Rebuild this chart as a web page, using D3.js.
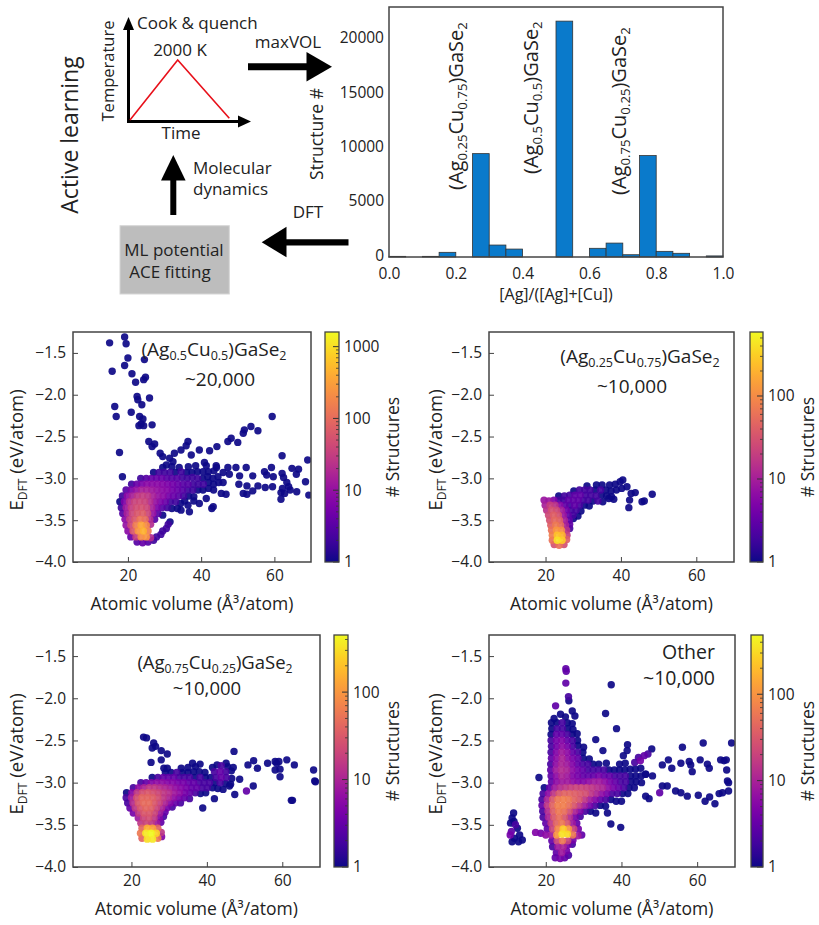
<!DOCTYPE html>
<html><head><meta charset="utf-8">
<script src="https://cdn.jsdelivr.net/npm/d3@7"></script>
<style>
body{margin:0;background:#fff;}
svg{display:block;font-family:"Open Sans",sans-serif;}
</style></head><body>
<svg id="fig" width="819" height="925"></svg>
<script>
// ---------------- DATA ----------------
const histBinStart = [0.00,0.05,0.10,0.15,0.20,0.25,0.30,0.35,0.40,0.45,0.50,0.55,0.60,0.65,0.70,0.75,0.80,0.85,0.90,0.95];
const histCounts   = [60,0,60,430,0,9510,1100,730,0,0,21700,0,800,1280,210,9330,520,340,0,100];
const histYTicks = [0,5000,10000,15000,20000];
const histXTicks = [0.0,0.2,0.4,0.6,0.8,1.0];

const scatterYTicks = [-4.0,-3.5,-3.0,-2.5,-2.0,-1.5];
const scatterXTicks = [20,40,60];

const formula050 = [["(Ag",0],["0.5",1],["Cu",0],["0.5",1],[")GaSe",0],["2",1]];
const formula025 = [["(Ag",0],["0.25",1],["Cu",0],["0.75",1],[")GaSe",0],["2",1]];
const formula075 = [["(Ag",0],["0.75",1],["Cu",0],["0.25",1],[")GaSe",0],["2",1]];

// [atomic volume, E_DFT, # structures]
const p1Points = [
[15.0,-1.38,1],[19.1,-1.31,1],[19.5,-1.39,1],[15.7,-1.72,1],[20.0,-1.56,1],[24.5,-1.58,1],[19.1,-1.65,1],[21.1,-1.75,1],[22.1,-1.85,1],[24.3,-1.82,1],[24.8,-1.79,1],[22.5,-2.02,1],[22.7,-2.06,1],[23.8,-2.12,1],[25.9,-2.04,1],[16.4,-2.14,1],[16.8,-2.26,1],[20.9,-2.21,1],[23.2,-2.26,1],[24.1,-2.29,1],[23.6,-2.35,1],[23.0,-2.37,1],[24.3,-2.37,1],[26.6,-2.36,1],[59.4,-2.26,1],[25.7,-2.56,1],[26.6,-2.62,1],[27.3,-2.59,1],[17.7,-2.69,1],[28.8,-2.70,1],[29.5,-2.74,1],[31.4,-2.76,1],[32.3,-2.80,1],[30.5,-2.84,1],[36.4,-2.56,1],[35.9,-2.61,1],[34.5,-2.66,1],[32.7,-2.70,1],[39.5,-2.66,1],[37.3,-2.72,1],[44.3,-2.62,1],[47.3,-2.56,1],[48.2,-2.52,1],[50.0,-2.57,1],[51.8,-2.42,1],[53.6,-2.38,1],[55.5,-2.43,1],[51.5,-2.46,1],[42.3,-2.67,1],[40.9,-2.81,1],[62.1,-2.73,1],[69.1,-2.78,1],[18.5,-2.98,1],
[47.3,-2.87,1],[49.5,-2.87,1],[52.3,-2.87,1],[47.7,-2.95,1],[50.5,-2.97,1],[54.1,-2.97,1],[57.3,-2.92,1],[57.9,-2.96,1],[59.7,-2.98,1],[62.1,-2.94,1],[62.5,-2.99,1],[66.6,-2.89,1],[68.5,-3.04,1],[50.3,-3.07,1],[52.5,-3.09,1],[55.5,-3.09,1],[57.5,-3.11,1],[59.5,-3.10,1],[63.4,-3.05,1],[63.9,-3.10,1],[46.8,-3.19,1],[51.5,-3.18,1],[52.5,-3.19,1],[54.1,-3.15,1],[61.8,-3.17,1],[64.3,-3.14,1],[66.1,-3.16,1],[61.8,-3.25,1],[45.5,-3.18,1],[69.4,-3.20,1],[62.2,-3.12,1],[62.8,-3.18,1],[59.2,-2.87,1],[64.8,-2.88,1],[66.0,-2.95,1],[44.2,-2.87,1],[46.0,-2.93,1],
[22.5,-3.76,3],[24.0,-3.77,4],[25.5,-3.76,3],[27.0,-3.74,2],
[20.8,-3.70,4],[22.2,-3.70,30],[23.6,-3.70,200],[25.0,-3.70,250],[26.2,-3.71,20],[27.8,-3.70,2],[29.0,-3.67,2],
[20.0,-3.63,8],[21.4,-3.63,60],[22.8,-3.63,250],[24.2,-3.63,450],[25.5,-3.63,150],[29.5,-3.63,2],[30.5,-3.60,2],
[19.5,-3.56,10],[20.8,-3.56,40],[22.2,-3.56,150],[23.6,-3.56,350],[25.0,-3.56,200],[26.2,-3.55,20],[31.0,-3.55,2],[31.5,-3.52,1],
[19.2,-3.49,8],[20.5,-3.49,30],[21.9,-3.49,60],[23.3,-3.49,120],[24.7,-3.49,100],[26.0,-3.49,20],[27.3,-3.49,3],
[18.6,-3.42,3],[19.8,-3.42,15],[21.2,-3.42,40],[22.6,-3.42,60],[24.0,-3.42,70],[25.4,-3.42,40],[26.8,-3.42,10],[28.2,-3.42,3],[29.5,-3.44,1],
[18.2,-3.35,2],[19.5,-3.35,12],[20.9,-3.35,30],[22.3,-3.35,45],[23.7,-3.35,50],[25.1,-3.35,40],[26.5,-3.35,15],[27.9,-3.35,6],[29.3,-3.35,3],[30.7,-3.35,2],[32.0,-3.36,1],[33.5,-3.36,1],
[17.8,-3.28,1],[19.0,-3.28,6],[20.4,-3.28,20],[21.8,-3.28,35],[23.2,-3.28,40],[24.6,-3.28,35],[26.0,-3.28,20],[27.4,-3.28,10],[28.8,-3.28,6],[30.2,-3.28,4],[31.6,-3.28,2],[33.0,-3.28,2],[34.4,-3.30,1],[35.5,-3.27,1],
[18.5,-3.21,2],[19.8,-3.21,8],[21.2,-3.21,15],[22.6,-3.21,25],[24.0,-3.21,30],[25.4,-3.21,25],[26.8,-3.21,15],[28.2,-3.21,10],[29.6,-3.21,8],[31.0,-3.21,5],[32.4,-3.21,4],[33.8,-3.21,3],[35.2,-3.21,2],[36.6,-3.21,1],[38.0,-3.22,1],
[19.5,-3.14,3],[20.9,-3.14,6],[22.3,-3.14,10],[23.7,-3.14,15],[25.1,-3.14,15],[26.5,-3.14,12],[27.9,-3.14,10],[29.3,-3.14,8],[30.7,-3.14,7],[32.1,-3.14,5],[33.5,-3.14,4],[34.9,-3.14,3],[36.3,-3.14,2],[37.7,-3.14,2],[39.1,-3.14,1],[40.5,-3.14,1],[42.0,-3.12,1],[43.4,-3.14,1],
[21.0,-3.07,2],[22.4,-3.07,4],[23.8,-3.07,6],[25.2,-3.07,8],[26.6,-3.07,8],[28.0,-3.07,8],[29.4,-3.07,7],[30.8,-3.07,6],[32.2,-3.07,5],[33.6,-3.07,4],[35.0,-3.07,3],[36.4,-3.07,3],[37.8,-3.07,2],[39.2,-3.07,2],[40.6,-3.07,2],[42.0,-3.05,1],[43.4,-3.07,1],[44.8,-3.05,1],[46.0,-3.05,1],
[23.5,-3.00,2],[25.0,-3.00,3],[26.4,-3.00,4],[27.8,-3.00,4],[29.2,-3.00,4],[30.6,-3.00,3],[32.0,-3.00,3],[33.4,-3.00,3],[34.8,-2.99,2],[36.2,-3.00,2],[37.6,-2.99,2],[39.0,-3.00,2],[40.4,-3.00,1],[41.8,-2.98,1],[43.2,-3.00,1],[44.6,-2.98,1],
[27.0,-2.93,1],[28.5,-2.93,2],[30.0,-2.93,2],[31.5,-2.93,2],[33.0,-2.93,1],[34.5,-2.92,2],[36.0,-2.93,1],[37.5,-2.93,1],[39.0,-2.92,1],[40.5,-2.92,1],[42.0,-2.92,1],[43.5,-2.91,1],
[29.5,-2.87,1],[32.0,-2.86,1],[34.0,-2.87,1],[36.5,-2.86,1],[38.5,-2.85,1],[41.4,-2.85,1],[44.1,-2.85,1],
[36.8,-3.40,1],[36.4,-3.32,1],[39.5,-3.30,1],[41.4,-3.24,1],[42.9,-3.36,1],[43.3,-3.34,1],[38.0,-3.27,1],[34.5,-3.38,1]
];

const p2Points = [
[22.3,-3.79,30],[23.6,-3.80,60],[24.9,-3.79,30],
[21.8,-3.74,60],[23.1,-3.74,400],[24.4,-3.74,300],[25.6,-3.73,40],
[21.8,-3.68,80],[23.1,-3.68,250],[24.4,-3.68,200],[25.7,-3.68,20],
[21.6,-3.62,60],[22.9,-3.62,120],[24.2,-3.62,100],[25.6,-3.62,15],[26.4,-3.60,2],
[21.4,-3.56,40],[22.7,-3.56,70],[24.0,-3.56,50],[25.3,-3.56,10],[26.4,-3.55,3],
[21.1,-3.50,30],[22.4,-3.50,50],[23.7,-3.50,40],[25.0,-3.50,10],[26.3,-3.50,3],[27.4,-3.48,1],
[20.8,-3.44,25],[22.1,-3.44,40],[23.4,-3.44,30],[24.7,-3.44,8],[26.0,-3.44,3],[27.3,-3.44,2],[28.6,-3.45,1],
[20.3,-3.38,15],[21.6,-3.38,30],[22.9,-3.38,25],[24.2,-3.38,10],[25.5,-3.38,4],[26.8,-3.38,2],[28.1,-3.38,2],[29.4,-3.39,1],
[19.9,-3.32,10],[21.2,-3.32,20],[22.5,-3.32,15],[23.8,-3.32,6],[25.1,-3.32,3],[26.4,-3.32,2],[27.7,-3.32,3],[29.0,-3.32,2],[30.3,-3.32,1],[31.6,-3.33,1],
[19.6,-3.26,8],[20.9,-3.27,8],[22.2,-3.26,5],[23.5,-3.26,2],[24.8,-3.26,2],[26.1,-3.26,3],[27.4,-3.26,3],[28.7,-3.26,3],[30.0,-3.26,2],[31.3,-3.26,2],[32.6,-3.27,1],[33.9,-3.27,2],[35.2,-3.28,1],
[23.5,-3.21,1],[25.0,-3.21,2],[26.4,-3.20,2],[27.8,-3.20,3],[29.2,-3.20,3],[30.6,-3.20,2],[32.0,-3.20,2],[33.4,-3.21,2],[34.8,-3.20,1],[36.2,-3.21,1],[37.5,-3.22,1],
[27.5,-3.15,1],[29.0,-3.14,2],[30.4,-3.14,2],[31.8,-3.14,2],[33.2,-3.14,1],[34.6,-3.14,2],[36.0,-3.14,1],[37.4,-3.15,1],[38.8,-3.14,1],[40.2,-3.12,1],
[31.0,-3.09,1],[33.5,-3.08,1],[35.0,-3.08,1],[37.0,-3.08,1],[38.5,-3.07,1],[39.8,-3.04,1],
[40.5,-3.02,1],[42.7,-3.18,1],[42.3,-3.26,1],[45.6,-3.28,1],[46.2,-3.27,1],[48.3,-3.19,1],[42.1,-3.35,1],[38.1,-3.25,1],[43.8,-3.17,1],[41.6,-3.10,1],[36.8,-3.24,1]
];

const p3Points = [
[22.8,-3.66,40],[24.2,-3.67,300],[25.6,-3.67,350],[27.0,-3.66,60],[28.0,-3.64,5],
[22.4,-3.60,60],[23.8,-3.60,350],[25.2,-3.60,450],[26.6,-3.60,250],[27.9,-3.59,15],
[22.8,-3.54,40],[24.2,-3.54,150],[25.6,-3.54,120],[27.0,-3.54,40],
[22.5,-3.48,15],[23.9,-3.48,20],[25.3,-3.48,15],[26.7,-3.48,8],[27.8,-3.47,3],
[21.8,-3.42,8],[23.2,-3.42,20],[24.6,-3.42,25],[26.0,-3.42,15],[27.4,-3.42,5],[28.5,-3.40,2],
[20.5,-3.36,4],[21.9,-3.36,15],[23.3,-3.36,30],[24.7,-3.36,30],[26.1,-3.36,20],[27.5,-3.36,8],[28.9,-3.35,3],
[19.6,-3.30,3],[21.0,-3.30,15],[22.4,-3.30,30],[23.8,-3.30,40],[25.2,-3.30,35],[26.6,-3.30,20],[28.0,-3.30,10],[29.4,-3.30,4],[30.8,-3.29,2],
[19.0,-3.24,2],[20.4,-3.24,12],[21.8,-3.24,30],[23.2,-3.24,45],[24.6,-3.24,45],[26.0,-3.24,30],[27.4,-3.24,18],[28.8,-3.24,10],[30.2,-3.24,5],[31.6,-3.24,3],[33.0,-3.24,2],
[18.6,-3.18,2],[20.0,-3.18,8],[21.4,-3.18,25],[22.8,-3.18,40],[24.2,-3.18,40],[25.6,-3.18,35],[27.0,-3.18,25],[28.4,-3.18,15],[29.8,-3.18,10],[31.2,-3.18,6],[32.6,-3.18,4],[34.0,-3.18,3],[35.4,-3.19,2],
[18.7,-3.12,1],[20.1,-3.12,5],[21.5,-3.12,15],[22.9,-3.12,25],[24.3,-3.12,30],[25.7,-3.12,25],[27.1,-3.12,20],[28.5,-3.12,15],[29.9,-3.12,12],[31.3,-3.12,8],[32.7,-3.12,6],[34.1,-3.12,4],[35.5,-3.12,3],[36.9,-3.12,2],[38.3,-3.13,1],[39.7,-3.12,1],
[20.5,-3.06,2],[21.9,-3.06,6],[23.3,-3.06,10],[24.7,-3.06,15],[26.1,-3.06,15],[27.5,-3.06,12],[28.9,-3.06,10],[30.3,-3.06,8],[31.7,-3.06,6],[33.1,-3.06,5],[34.5,-3.06,4],[35.9,-3.06,3],[37.3,-3.06,3],[38.7,-3.06,2],[40.1,-3.06,2],[41.5,-3.06,1],[42.9,-3.07,1],[44.3,-3.08,1],
[22.5,-3.00,2],[23.9,-3.00,3],[25.3,-3.00,5],[26.7,-3.00,6],[28.1,-3.00,6],[29.5,-3.00,5],[30.9,-3.00,5],[32.3,-3.00,4],[33.7,-3.00,4],[35.1,-3.00,3],[36.5,-3.00,3],[37.9,-3.00,2],[39.3,-3.00,2],[40.7,-3.00,2],[42.1,-3.00,1],[43.5,-3.00,2],[44.9,-3.01,1],[46.3,-3.02,1],
[25.5,-2.94,1],[27.0,-2.94,2],[28.4,-2.94,3],[29.8,-2.94,3],[31.2,-2.94,3],[32.6,-2.94,2],[34.0,-2.94,2],[35.4,-2.94,2],[36.8,-2.94,1],[38.2,-2.94,2],[39.6,-2.94,1],[41.0,-2.94,1],[42.4,-2.94,2],[43.8,-2.94,3],[45.2,-2.94,2],[46.6,-2.95,1],
[29.0,-2.88,1],[30.5,-2.88,1],[32.0,-2.88,2],[33.5,-2.88,1],[35.0,-2.88,1],[36.5,-2.87,1],[38.0,-2.87,1],[39.5,-2.88,1],[42.0,-2.87,2],[43.5,-2.87,3],[45.0,-2.87,2],[46.5,-2.86,1],
[35.0,-2.82,1],[37.0,-2.81,1],[41.5,-2.82,1],[43.8,-2.80,2],[45.5,-2.81,1],[47.0,-2.82,1],
[23.2,-2.46,1],[24.0,-2.47,1],[25.9,-2.53,1],[25.5,-2.59,1],[26.4,-2.57,1],[27.9,-2.62,1],[29.5,-2.66,1],[25.2,-2.76,1],[27.9,-2.73,1],[28.6,-2.83,1],[29.5,-2.83,1],[33.2,-2.83,1],[36.2,-2.77,1],[38.2,-2.78,1],[42.7,-2.79,1],[45.1,-2.77,1],[47.2,-2.63,1],[50.9,-2.79,1],[52.4,-2.74,1],[53.4,-2.83,1],[56.1,-2.77,1],[58.1,-2.75,1],[58.5,-2.77,1],[59.1,-2.75,1],[58.1,-2.85,1],[59.4,-2.84,1],[59.4,-2.93,1],[61.2,-2.73,1],[63.2,-2.79,1],[68.3,-2.85,1],[68.6,-2.98,1],[68.8,-2.99,1],[62.4,-3.21,1],[62.7,-3.21,1],[38.9,-3.30,1],[42.0,-3.19,1],[50.5,-3.10,3],[52.3,-3.04,1],[47.4,-3.14,1],[48.7,-2.96,1],[46.0,-3.04,1]
];

const p4Points = [
[11.5,-3.36,1],[11.1,-3.42,1],[11.6,-3.46,1],[10.7,-3.48,1],[12.0,-3.50,2],[10.9,-3.58,3],[12.5,-3.54,1],[10.6,-3.62,4],[13.1,-3.62,1],[11.7,-3.66,1],[13.8,-3.68,1],[11.1,-3.70,1],[12.8,-3.70,1],
[22.5,-3.89,3],[23.8,-3.90,4],[25.0,-3.89,3],[26.0,-3.86,2],
[22.8,-3.83,3],[24.2,-3.83,8],[25.5,-3.81,4],
[21.8,-3.76,2],[23.2,-3.76,8],[24.6,-3.76,10],[25.8,-3.74,4],[27.0,-3.73,2],
[21.6,-3.69,3],[23.0,-3.69,20],[24.4,-3.69,60],[25.8,-3.69,20],[27.2,-3.68,4],
[17.3,-3.59,5],[18.7,-3.60,4],[20.0,-3.62,6],[21.5,-3.62,8],[22.9,-3.62,100],[24.3,-3.61,350],[25.7,-3.61,300],[27.1,-3.62,60],[28.5,-3.63,8],[29.5,-3.62,3],
[20.4,-3.55,3],[21.8,-3.55,20],[23.2,-3.55,80],[24.6,-3.55,250],[26.0,-3.55,100],[27.4,-3.55,20],[28.6,-3.55,4],
[20.0,-3.48,3],[21.4,-3.48,15],[22.8,-3.48,40],[24.2,-3.48,60],[25.6,-3.48,30],[27.0,-3.48,8],[28.2,-3.48,3],
[19.3,-3.41,2],[20.7,-3.41,10],[22.1,-3.41,30],[23.5,-3.41,50],[24.9,-3.41,30],[26.3,-3.41,12],[27.7,-3.41,4],[29.1,-3.40,2],
[19.2,-3.34,2],[20.6,-3.34,12],[22.0,-3.34,35],[23.4,-3.34,60],[24.8,-3.34,50],[26.2,-3.34,25],[27.6,-3.34,10],[29.0,-3.34,5],[30.4,-3.34,2],[31.8,-3.34,1],[33.2,-3.36,1],
[19.0,-3.27,3],[20.4,-3.27,15],[21.8,-3.27,40],[23.2,-3.27,70],[24.6,-3.27,70],[26.0,-3.27,50],[27.4,-3.27,30],[28.8,-3.27,15],[30.2,-3.27,8],[31.6,-3.27,4],[33.0,-3.27,2],[34.4,-3.27,1],[35.8,-3.28,1],
[19.0,-3.20,2],[20.4,-3.20,10],[21.8,-3.20,30],[23.2,-3.20,60],[24.6,-3.20,70],[26.0,-3.20,60],[27.4,-3.20,40],[28.8,-3.20,30],[30.2,-3.20,15],[31.6,-3.20,8],[33.0,-3.20,5],[34.4,-3.20,3],[35.8,-3.20,2],[37.2,-3.20,1],[38.6,-3.22,1],[40.0,-3.22,1],
[19.3,-3.13,2],[20.7,-3.13,6],[22.1,-3.13,15],[23.5,-3.13,30],[24.9,-3.13,40],[26.3,-3.13,40],[27.7,-3.13,35],[29.1,-3.13,30],[30.5,-3.13,25],[31.9,-3.13,15],[33.3,-3.13,10],[34.7,-3.13,6],[36.1,-3.13,4],[37.5,-3.13,2],[38.9,-3.13,2],[40.3,-3.13,1],[41.7,-3.13,1],
[19.6,-3.06,1],[21.0,-3.06,3],[22.4,-3.06,8],[23.8,-3.06,12],[25.2,-3.06,15],[26.6,-3.06,18],[28.0,-3.06,20],[29.4,-3.06,20],[30.8,-3.06,18],[32.2,-3.06,15],[33.6,-3.06,12],[35.0,-3.06,10],[36.4,-3.06,6],[37.8,-3.06,4],[39.2,-3.06,3],[40.6,-3.06,2],[42.0,-3.06,1],[43.4,-3.06,1],
[21.5,-2.99,3],[22.9,-2.99,6],[24.3,-2.99,8],[25.7,-2.99,8],[27.1,-2.99,6],[28.5,-2.99,5],[29.9,-2.99,5],[31.3,-2.99,6],[32.7,-2.99,8],[34.1,-2.99,8],[35.5,-2.99,6],[36.9,-2.99,4],[38.3,-2.99,3],[39.7,-2.99,2],[41.1,-2.99,2],[42.5,-2.99,1],[43.9,-2.99,1],[45.3,-3.00,1],
[21.4,-2.92,3],[22.8,-2.92,6],[24.2,-2.92,10],[25.6,-2.92,8],[27.0,-2.92,5],[28.4,-2.92,4],[29.8,-2.92,3],[31.2,-2.92,3],[32.6,-2.92,3],[34.0,-2.92,4],[35.4,-2.92,3],[36.8,-2.92,3],[38.2,-2.92,2],[39.6,-2.92,2],[41.0,-2.92,2],[42.4,-2.92,1],[43.8,-2.92,1],[45.2,-2.92,1],[46.4,-2.90,1],
[21.3,-2.85,3],[22.7,-2.85,8],[24.1,-2.85,12],[25.5,-2.85,10],[26.9,-2.85,6],[28.3,-2.85,4],[29.7,-2.85,3],[31.1,-2.85,2],[32.5,-2.85,2],[33.9,-2.85,2],[35.3,-2.85,2],[36.7,-2.85,1],[38.1,-2.85,1],[39.5,-2.85,1],[40.9,-2.85,1],[42.3,-2.84,1],[43.7,-2.84,1],[45.1,-2.83,1],
[21.3,-2.78,2],[22.7,-2.78,6],[24.1,-2.78,10],[25.5,-2.78,8],[26.9,-2.78,5],[28.3,-2.78,3],[29.7,-2.78,2],[31.1,-2.78,2],[32.5,-2.78,1],[34.0,-2.78,1],[36.0,-2.77,1],[39.5,-2.78,1],[41.0,-2.77,1],[43.5,-2.76,2],[45.0,-2.74,4],
[21.5,-2.71,3],[22.9,-2.71,6],[24.3,-2.71,10],[25.7,-2.71,6],[27.1,-2.71,4],[28.5,-2.71,3],[29.9,-2.71,1],[31.5,-2.72,1],[40.5,-2.68,1],[44.5,-2.70,2],[46.0,-2.68,3],[47.0,-2.66,2],
[21.4,-2.64,2],[22.8,-2.64,5],[24.2,-2.64,8],[25.6,-2.64,6],[27.0,-2.64,3],[28.4,-2.64,2],[29.8,-2.64,1],[41.5,-2.62,1],
[21.5,-2.57,2],[22.9,-2.57,4],[24.3,-2.57,6],[25.7,-2.57,4],[27.1,-2.57,2],[28.5,-2.56,1],[30.0,-2.58,1],
[21.4,-2.50,2],[22.8,-2.50,4],[24.2,-2.50,5],[25.6,-2.50,3],[27.0,-2.50,2],[28.4,-2.50,1],
[21.4,-2.43,1],[22.8,-2.43,3],[24.2,-2.43,3],[25.6,-2.43,2],[27.0,-2.43,1],[28.3,-2.42,1],
[21.6,-2.36,1],[23.0,-2.36,2],[24.4,-2.36,2],[25.8,-2.36,1],[27.2,-2.37,1],
[21.5,-2.29,1],[22.9,-2.29,1],[24.3,-2.29,2],[25.7,-2.29,1],[27.0,-2.30,1],
[22.2,-2.24,1],[23.9,-2.19,1],[25.2,-2.22,1],[27.7,-2.21,1],[27.0,-2.15,1],
[22.6,-2.09,3],[26.0,-1.98,2],[26.1,-2.03,1],[25.3,-1.82,3],[25.3,-1.65,3],[25.4,-1.68,3],
[37.3,-1.84,1],[35.8,-2.18,1],[38.7,-2.36,1],[33.2,-2.49,1],[35.1,-2.62,1],[41.6,-2.55,1],[48.0,-2.60,1],[18.2,-2.94,1],[37.2,-3.49,1],[39.8,-3.53,1],[36.3,-3.36,1],
[50.8,-2.79,1],[52.4,-2.73,1],[53.3,-2.83,1],[56.1,-2.58,1],[55.7,-2.77,1],[57.9,-2.75,1],[58.3,-2.79,1],[58.7,-2.87,1],[60.8,-2.73,1],[61.6,-2.53,1],[62.7,-2.78,1],[63.2,-2.83,1],[66.2,-2.73,1],[67.1,-2.74,1],[67.7,-2.73,1],[67.8,-2.85,1],[68.0,-2.98,1],[68.3,-3.00,1],[69.1,-2.53,1],[48.2,-2.92,1],[50.8,-3.04,1],[50.1,-3.12,3],[52.1,-3.04,1],[54.3,-3.10,1],[55.7,-3.12,1],[57.4,-3.16,1],[60.3,-3.15,1],[62.1,-3.22,1],[63.3,-3.17,1],[64.7,-3.25,1],[65.8,-3.13,1],[66.7,-3.12,1],[68.3,-3.10,1],[46.4,-2.90,1],[46.4,-3.16,1],[47.3,-3.19,1]
];

// ---------------- DRAWING ----------------
const svg = d3.select("#fig");
const INK = "#222";

function richText(sel, parts, size) {
  let prevSub = false;
  const sh = size * 0.22;
  parts.forEach(([t, sub]) => {
    const ts = sel.append("tspan").text(t).attr("font-size", sub ? size * 0.66 : size);
    if (sub && !prevSub) ts.attr("dy", sh);
    else if (!sub && prevSub) ts.attr("dy", -sh);
    prevSub = !!sub;
  });
}
function txt(x, y, s, size, anchor, rot) {
  const t = svg.append("text").attr("x", x).attr("y", y).attr("font-size", size)
    .attr("fill", INK).attr("text-anchor", anchor || "start").text(s);
  if (rot) t.attr("transform", `rotate(${rot},${x},${y})`);
  return t;
}
function arrowHead(tip, base1, base2) {
  svg.append("polygon").attr("points", [tip, base1, base2].map(p => p.join(",")).join(" ")).attr("fill", "#000");
}

// ---- Diagram (top-left) ----
txt(78, 135, "Active learning", 23, "middle", -90);
svg.append("line").attr("x1", 128.5).attr("y1", 123).attr("x2", 128.5).attr("y2", 27).attr("stroke", "#000").attr("stroke-width", 3);
arrowHead([128.5, 17], [123, 30], [134, 30]);
svg.append("line").attr("x1", 127).attr("y1", 121.5).attr("x2", 240).attr("y2", 121.5).attr("stroke", "#000").attr("stroke-width", 3);
arrowHead([251, 121.5], [238, 115.5], [238, 127.5]);
svg.append("polyline").attr("points", "130,120 177.7,60 229.3,118.3").attr("fill", "none").attr("stroke", "#e8101a").attr("stroke-width", 1.6);
txt(114, 71, "Temperature", 16.5, "middle", -90);
txt(137, 29, "Cook & quench", 17);
txt(180, 56, "2000 K", 17, "middle");
txt(181, 139, "Time", 17, "middle");
// maxVOL arrow
svg.append("line").attr("x1", 248).attr("y1", 66.7).attr("x2", 308).attr("y2", 66.7).attr("stroke", "#000").attr("stroke-width", 7);
arrowHead([332, 66.7], [306.5, 52], [306.5, 81.5]);
txt(288, 47.5, "maxVOL", 17, "middle");
// up arrow
svg.append("line").attr("x1", 173.3).attr("y1", 215).attr("x2", 173.3).attr("y2", 178).attr("stroke", "#000").attr("stroke-width", 6);
arrowHead([173.3, 155], [161, 180.5], [185.6, 180.5]);
txt(193, 174, "Molecular", 17);
txt(193, 194.5, "dynamics", 17);
// DFT arrow
svg.append("line").attr("x1", 348.5).attr("y1", 242.3).attr("x2", 284).attr("y2", 242.3).attr("stroke", "#000").attr("stroke-width", 6.3);
arrowHead([261.7, 242.3], [286.5, 226.8], [286.5, 257.3]);
txt(308, 218, "DFT", 17, "middle");
// ML box
svg.append("rect").attr("x", 120).attr("y", 225.7).attr("width", 109.3).attr("height", 68.3).attr("fill", "#bdbdbd").attr("stroke", "#d6d6d6");
txt(174, 256, "ML potential", 17, "middle");
txt(170, 277.7, "ACE fitting", 17, "middle");

// ---- Histogram (top-right) ----
(function () {
  const L = 389, R = 723, T = 7, B = 257;
  const x = d3.scaleLinear().domain([0, 1]).range([L, R]);
  const y = d3.scaleLinear().domain([0, 23000]).range([B, T]);
  const bins = histBinStart.map((s, i) => ({ s, e: s + 0.05, c: histCounts[i] }));
  svg.append("g").selectAll("rect").data(bins.filter(d => d.c > 0)).join("rect")
    .attr("x", d => x(d.s)).attr("width", d => x(d.e) - x(d.s))
    .attr("y", d => y(d.c)).attr("height", d => y(0) - y(d.c))
    .attr("fill", "#0a7acb").attr("stroke", "#333").attr("stroke-width", 0.8);
  svg.append("rect").attr("x", L).attr("y", T).attr("width", R - L).attr("height", B - T)
    .attr("fill", "none").attr("stroke", "#444").attr("stroke-width", 1.5);
  const ay = svg.append("g").attr("transform", `translate(${L},0)`)
    .call(d3.axisLeft(y).tickValues(histYTicks).tickSize(0).tickPadding(5).tickFormat(d3.format("d")));
  ay.selectAll("text").attr("dy", "0.2em");
  const ax = svg.append("g").attr("transform", `translate(0,${B})`)
    .call(d3.axisBottom(x).tickValues(histXTicks).tickSize(0).tickPadding(11).tickFormat(d3.format(".1f")));
  [ay, ax].forEach(a => { a.select(".domain").remove(); a.selectAll("text").attr("font-size", 15.5).attr("fill", INK).attr("font-family", "Open Sans"); });
  txt(556, 300, "[Ag]/([Ag]+[Cu])", 16, "middle");
  txt(323, 134, "Structure #", 17.5, "middle", -90);
  richText(txt(463, 190, "", 20, "start", -90), formula025, 20);
  richText(txt(538, 174, "", 20, "start", -90), formula050, 20);
  richText(txt(626, 195, "", 20, "start", -90), formula075, 20);
})();

// ---- Scatter panels ----
let clipN = 0;
function panel(c) {
  const x = d3.scaleLinear().domain(c.xd).range([c.l, c.r]);
  const y = d3.scaleLinear().domain([-4, -1.25]).range([c.b, c.t]);
  const color = d3.scaleSequentialLog(d3.interpolatePlasma).domain([1, c.max]);
  const id = "clip" + (clipN++);
  svg.append("clipPath").attr("id", id).append("rect").attr("x", c.l).attr("y", c.t).attr("width", c.r - c.l).attr("height", c.b - c.t);
  svg.append("g").attr("clip-path", `url(#${id})`).selectAll("circle")
    .data(c.pts.slice().sort((a, b) => a[2] - b[2])).join("circle")
    .attr("cx", d => x(d[0])).attr("cy", d => y(d[1])).attr("r", 3.7)
    .attr("fill", d => color(d[2])).attr("fill-opacity", 0.92);
  svg.append("rect").attr("x", c.l).attr("y", c.t).attr("width", c.r - c.l).attr("height", c.b - c.t)
    .attr("fill", "none").attr("stroke", "#444").attr("stroke-width", 1.5);
  const ay = svg.append("g").attr("transform", `translate(${c.l},0)`)
    .call(d3.axisLeft(y).tickValues(scatterYTicks).tickSize(-5).tickPadding(7).tickFormat(d3.format(".1f")));
  const ax = svg.append("g").attr("transform", `translate(0,${c.b})`)
    .call(d3.axisBottom(x).tickValues(scatterXTicks).tickSize(-5).tickPadding(8).tickFormat(d3.format("d")));
  [ay, ax].forEach(a => {
    a.select(".domain").remove();
    a.selectAll("line").attr("stroke", "#444").attr("stroke-width", 1);
    a.selectAll("text").attr("font-size", 15.5).attr("fill", INK).attr("font-family", "Open Sans");
  });
  // axis labels
  txt((c.l + c.r) / 2, c.b + 48, "Atomic volume (Å³/atom)", 17.5, "middle");
  const yl = txt(c.ylx, (c.t + c.b) / 2 + 3, "", 18.5, "middle", -90);
  richText(yl, [["E", 0], ["DFT", 1], [" (eV/atom)", 0]], 18.5);
  // annotation
  const a1 = txt(c.ax, c.ay1, "", c.fs, c.anchor);
  if (c.formula) richText(a1, c.formula, c.fs); else a1.text(c.title);
  txt(c.ax2, c.ay2, c.count, c.fs, c.anchor);
  // colorbar
  const gid = "grad" + id;
  const grad = svg.append("defs").append("linearGradient").attr("id", gid)
    .attr("x1", 0).attr("y1", 1).attr("x2", 0).attr("y2", 0);
  d3.range(0, 1.0001, 0.05).forEach(t => grad.append("stop").attr("offset", t).attr("stop-color", d3.interpolatePlasma(t)));
  svg.append("rect").attr("x", c.cl).attr("y", c.t).attr("width", c.cr - c.cl).attr("height", c.b - c.t).attr("fill", `url(#${gid})`);
  const cs = d3.scaleLog().domain([1, c.max]).range([c.b, c.t]);
  const major = [1, 10, 100, 1000].filter(v => v <= c.max);
  const minor = [];
  [1, 10, 100, 1000].forEach(d => { for (let m = 2; m <= 9; m++) if (m * d <= c.max) minor.push(m * d); });
  svg.append("g").selectAll("line").data(minor).join("line")
    .attr("x1", c.cr - 3).attr("x2", c.cr).attr("y1", d => cs(d)).attr("y2", d => cs(d)).attr("stroke", "#333").attr("stroke-width", 0.8);
  svg.append("g").selectAll("line").data(major).join("line")
    .attr("x1", c.cr - 6).attr("x2", c.cr).attr("y1", d => cs(d)).attr("y2", d => cs(d)).attr("stroke", "#333").attr("stroke-width", 1);
  svg.append("g").selectAll("text").data(major).join("text")
    .attr("x", c.cr + 5).attr("y", d => cs(d)).attr("dy", "0.35em").attr("font-size", 15.5).attr("fill", INK).text(d => d);
  svg.append("rect").attr("x", c.cl).attr("y", c.t).attr("width", c.cr - c.cl).attr("height", c.b - c.t)
    .attr("fill", "none").attr("stroke", "#444").attr("stroke-width", 1.3);
  txt(c.cbx, (c.t + c.b) / 2, "# Structures", 17.5, "middle", -90);
}

panel({ pts: p1Points, l: 73, r: 311, t: 332, b: 562, xd: [5, 70], max: 1600, cl: 325, cr: 339, cbx: 399, ylx: 23, fs: 19,
  formula: formula050, ax: 214, ay1: 356, ax2: 220, ay2: 386, count: "~20,000", anchor: "middle" });
panel({ pts: p2Points, l: 489, r: 734, t: 332, b: 562, xd: [5, 70], max: 590, cl: 750, cr: 763, cbx: 814, ylx: 442, fs: 19,
  formula: formula025, ax: 640, ay1: 363, ax2: 632, ay2: 393, count: "~10,000", anchor: "middle" });
panel({ pts: p3Points, l: 73, r: 320, t: 635, b: 867, xd: [4.5, 70], max: 450, cl: 334, cr: 348, cbx: 399, ylx: 23, fs: 18.5,
  formula: formula075, ax: 215, ay1: 669, ax2: 207, ay2: 695, count: "~10,000", anchor: "middle" });
panel({ pts: p4Points, l: 489, r: 735, t: 635, b: 867, xd: [5, 70], max: 485, cl: 751, cr: 763, cbx: 814, ylx: 442, fs: 19.5,
  formula: null, title: "Other", ax: 715, ay1: 659, ax2: 715, ay2: 685, count: "~10,000", anchor: "end" });
</script>
</body></html>
